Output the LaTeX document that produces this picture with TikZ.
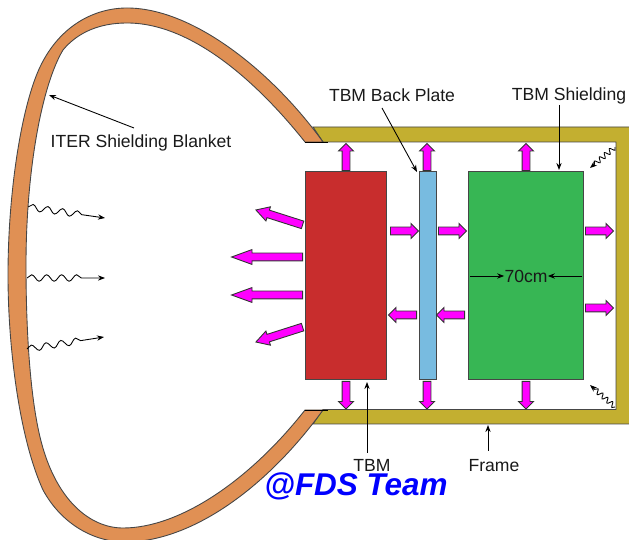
\documentclass[tikz,border=0pt]{standalone}
\usepackage{xcolor}
\usepackage{fontspec}
\setmainfont{Liberation Sans}
\usetikzlibrary{shapes.arrows, arrows.meta, decorations.pathmorphing}
\definecolor{myframe}{RGB}{195,175,48}
\definecolor{myorange}{RGB}{224,144,84}
\definecolor{myred}{RGB}{200,45,45}
\definecolor{myblue}{RGB}{120,187,224}
\definecolor{mygreen}{RGB}{55,182,84}
\definecolor{mypink}{RGB}{255,0,255}
\definecolor{myedge}{RGB}{70,70,70}
\tikzset{
  block/.style={rectangle, draw=myedge, line width=0.5pt, inner sep=0pt},
  flow/.style={single arrow, draw=black!80, fill=mypink,
    line width=0.5pt, inner sep=0pt, anchor=tail,
    single arrow head extend=0.07cm, single arrow head indent=0pt},
  label/.style={font=\fontsize{10}{12}\selectfont, text=black!90, inner sep=0pt},
  arrow/.style={-{Stealth[length=4pt, width=3pt]}, line width=0.5pt},
  wave/.style={-{Stealth[length=4pt, width=3pt]}, line width=0.5pt, decorate,
    decoration={snake, amplitude=0.065cm, segment length=0.3cm, post length=0.45cm}},
  smallwave/.style={-{Stealth[length=4pt, width=3pt]}, line width=0.5pt, decorate,
    decoration={snake, amplitude=0.05cm, segment length=0.13cm, post length=0.1cm}}
}
\begin{document}
\begin{tikzpicture}[x=0.02cm, y=-0.02cm]
  \useasboundingbox (0,0) rectangle (629,540);
  \clip (0,0) rectangle (629,540);

  % Frame
  \draw[fill=myframe, draw=myedge, line width=0.5pt]
    (313,127) -- (635,127) -- (635,424) -- (313,424) -- (323,409.5) -- (616,409.5) -- (616,142) -- (323,142) -- cycle;

  % Shielding blanket
  \draw[fill=myorange, draw=myedge, line width=0.5pt]
    (323,142) .. controls (275,75) and (195,8) .. (127,8)
    .. controls (95,8) and (60,25) .. (40,67)
    .. controls (22,105) and (8,190) .. (8,275)
    .. controls (8,350) and (20,440) .. (43,490)
    .. controls (62,525) and (95,542) .. (125,542)
    .. controls (190,542) and (265,490) .. (323,410)
    -- (305,410)
    .. controls (250,480) and (180,528) .. (123,528)
    .. controls (90,528) and (55,500) .. (40,437)
    .. controls (30,395) and (26,330) .. (26,265)
    .. controls (26,170) and (42,85) .. (63,50)
    .. controls (78,32) and (100,23) .. (127,23)
    .. controls (195,23) and (262,88) .. (305,142)
    -- cycle;
  \draw[black, line width=0.5pt] (305,142) -- (328,142) (305,410) -- (328,410);

  % Modules
  \node[block, fill=myred, minimum width=1.62cm, minimum height=4.16cm] (tbm) at (345.5,275) {};
  \node[block, fill=myblue, minimum width=0.34cm, minimum height=4.16cm] (plate) at (427.5,275) {};
  \node[block, fill=mygreen, minimum width=2.3cm, minimum height=4.16cm] (shield) at (525.5,275) {};

  % Heat flow arrows: tail / direction / length / tip angle
  \foreach \ax/\ay/\ang/\len/\tip [count=\i] in {
    346/171/90/27/90, 427/171/90/27/90, 526/171/90/27/90,
    346/381/-90/27.5/90, 427/381/-90/27.5/90, 526/381/-90/27.5/90,
    390/231/0/28/90, 438/231/0/28/90, 585/231/0/28/90, 585/308/0/28/90,
    417/315/180/28/90, 465/315/180/28/90,
    303/225/162.3/49/60, 303/257/180/71/40, 303/295/180/71/40, 303/327/197.7/49/60}
  {
    \node[flow, minimum height=\len*0.02cm, single arrow tip angle=\tip, rotate=\ang] (flow\i) at (\ax,\ay) {\rule{0pt}{0.14cm}};
  }

  % Radiation
  \coordinate (lefta) at (28,207);
  \coordinate (leftb) at (27,278);
  \coordinate (leftc) at (27,349);
  \coordinate (enda) at (105,218);
  \coordinate (endb) at (105,278);
  \coordinate (endc) at (104,337);
  \draw[wave] (lefta) -- (enda);
  \draw[wave] (leftb) -- (endb);
  \draw[wave] (leftc) -- (endc);
  \coordinate (cornera) at (615,147);
  \coordinate (cornerb) at (615,407);
  \coordinate (endd) at (590,168);
  \coordinate (ende) at (590,385);
  \draw[smallwave] (cornera) -- (endd);
  \draw[smallwave] (cornerb) -- (ende);

  % Labels
  \node[label] (iter) at (141,143) {ITER Shielding Blanket};
  \node[label] (back) at (392,95.5) {TBM Back Plate};
  \node[label] (shd) at (569,96) {TBM Shielding};
  \node[label] (tbmlab) at (372,465) {TBM};
  \node[label] (frame) at (494,465.5) {Frame};
  \node[label] (width) at (526,276) {70cm};
  \node[font=\bfseries\itshape\fontsize{17.9}{20}\selectfont, text=blue, inner sep=0pt] (team) at (356,486) {@FDS Team};

  \coordinate (blanket) at (49,95);
  \coordinate (platetop) at (417,172);
  \coordinate (shieldtop) at (559,170);
  \coordinate (tbmbot) at (367,382);
  \coordinate (framebot) at (488,425);
  \coordinate (gleft) at (470,276);
  \coordinate (gright) at (582,276);
  \coordinate (iterfoot) at (134,128);
  \coordinate (backfoot) at (382,108);
  \coordinate (shdfoot) at (559,105);
  \coordinate (tbmfoot) at (367,453);
  \coordinate (framefoot) at (488,451);
  \draw[arrow] (iterfoot) -- (blanket);
  \draw[arrow] (backfoot) -- (platetop);
  \draw[arrow] (shdfoot) -- (shieldtop);
  \draw[arrow] (tbmfoot) -- (tbmbot);
  \draw[arrow] (framefoot) -- (framebot);
  \draw[arrow] (gleft) -- (width);
  \draw[arrow] (gright) -- (width);
\end{tikzpicture}
\end{document}
